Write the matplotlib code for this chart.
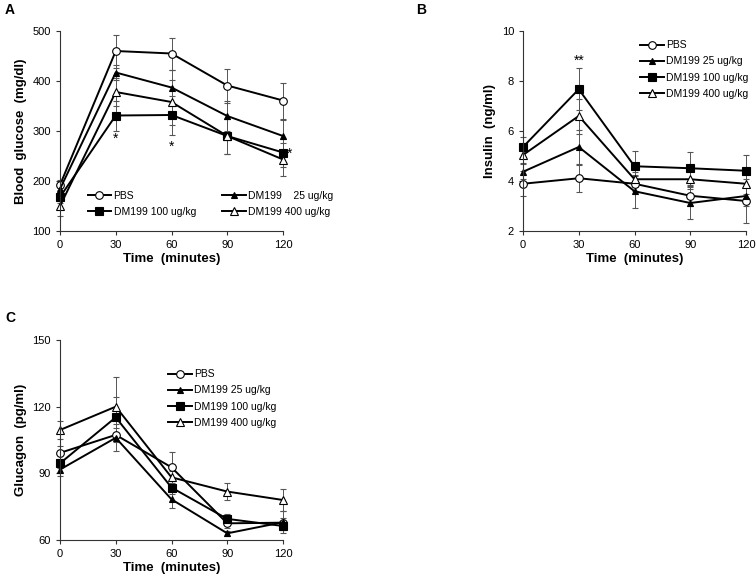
import numpy as np
import matplotlib.pyplot as plt
from matplotlib.lines import Line2D

plt.rcParams['font.family'] = ['Liberation Sans', 'DejaVu Sans']

time = [0, 30, 60, 90, 120]
labels = ['PBS', 'DM199 25 ug/kg', 'DM199 100 ug/kg', 'DM199 400 ug/kg']

# panel A - blood glucose
glu_pbs = [192, 460, 455, 391, 361]
glu_25 = [184, 417, 387, 330, 290]
glu_100 = [168, 331, 332, 290, 257]
glu_400 = [150, 378, 358, 290, 243]
glu_pbs_err = [10, 33, 32, 34, 36]
glu_25_err = [12, 15, 36, 30, 32]
glu_100_err = [12, 30, 39, 35, 28]
glu_400_err = [20, 28, 45, 35, 33]

# panel B - insulin
ins_pbs = [3.89, 4.11, 3.89, 3.41, 3.2]
ins_25 = [4.37, 5.36, 3.59, 3.12, 3.4]
ins_100 = [5.36, 7.67, 4.59, 4.51, 4.41]
ins_400 = [5.04, 6.6, 4.07, 4.07, 3.89]
ins_pbs_err = [0.5, 0.56, 0.3, 0.4, 0.87]
ins_25_err = [0.3, 0.7, 0.67, 0.64, 0.4]
ins_100_err = [0.4, 0.84, 0.6, 0.66, 0.65]
ins_400_err = [0.3, 0.7, 0.3, 0.4, 0.4]

# panel C - glucagon
gcg_pbs = [99.2, 107.3, 92.7, 67.5, 67.8]
gcg_25 = [91.7, 106, 78.3, 63, 68]
gcg_100 = [94.5, 115.2, 83.6, 69.5, 66.3]
gcg_400 = [109.5, 120, 88.2, 81.8, 78]
gcg_pbs_err = [3, 3, 7, 2, 2]
gcg_25_err = [3, 6, 4, 1, 5]
gcg_100_err = [2, 9, 3, 2, 2]
gcg_400_err = [4, 13.5, 3, 4, 5]

styles = [
    dict(marker='o', mfc='white', ms=5.5),
    dict(marker='^', mfc='black', ms=4.5),
    dict(marker='s', mfc='black', ms=5.5),
    dict(marker='^', mfc='white', ms=5.5),
]

W, H = 756, 579
fig = plt.figure(figsize=(W / 100, H / 100), dpi=100)


def make_ax(l, t, r, b):
    return fig.add_axes([l / W, 1 - b / H, (r - l) / W, (b - t) / H])


def draw(ax, series, errs, ylim, yticks, ylabel):
    for y, e, st in zip(series, errs, styles):
        ax.errorbar(time, y, yerr=e, color='black', lw=1.4, mec='black', mew=0.8,
                    ecolor='#555555', elinewidth=0.7, capsize=2.5, capthick=0.7,
                    **st)
    ax.set_xlim(0, 120)
    ax.set_ylim(*ylim)
    ax.set_xticks(time)
    ax.set_yticks(yticks)
    ax.spines['top'].set_visible(False)
    ax.spines['right'].set_visible(False)
    for s in ['left', 'bottom']:
        ax.spines[s].set_linewidth(0.8)
        ax.spines[s].set_color('#333333')
    ax.tick_params(labelsize=8, length=3, width=0.8, color='#333333')
    for art in ax.lines + ax.collections:
        art.set_clip_on(False)
    ax.set_xlabel('Time  (minutes)', fontsize=9.5, fontweight='bold', labelpad=2)
    ax.set_ylabel(ylabel, fontsize=9.5, fontweight='bold', labelpad=4)


def handles():
    return [Line2D([], [], color='black', lw=1.4, mec='black', mew=0.8, **st)
            for st in styles]


leg_kw = dict(frameon=False, fontsize=7.5, handlelength=2.3, handletextpad=0.2,
              labelspacing=0.6, borderpad=0)

axA = make_ax(60, 31, 283, 231)
draw(axA, [glu_pbs, glu_25, glu_100, glu_400],
     [glu_pbs_err, glu_25_err, glu_100_err, glu_400_err],
     (100, 500), [100, 200, 300, 400, 500], 'Blood  glucose  (mg/dl)')
h = handles()
labA = ['PBS', 'DM199 100 ug/kg', 'DM199    25 ug/kg', 'DM199 400 ug/kg']
axA.legend([h[0], h[2], h[1], h[3]], labA, ncol=2,
           loc='lower left', bbox_to_anchor=(0.10, 0.045),
           columnspacing=2.5, **leg_kw)
axA.text(30, 285, '*', ha='center', va='center', fontsize=10)
axA.text(60, 268, '*', ha='center', va='center', fontsize=10)
axA.text(123.5, 254, '*', ha='center', va='center', fontsize=10)

axB = make_ax(523, 31, 746, 231)
draw(axB, [ins_pbs, ins_25, ins_100, ins_400],
     [ins_pbs_err, ins_25_err, ins_100_err, ins_400_err],
     (2, 10), [2, 4, 6, 8, 10], 'Insulin  (ng/ml)')
axB.legend(handles(), labels, loc='upper left', bbox_to_anchor=(0.5, 0.98),
           **leg_kw)
axB.text(30, 8.8, '**', ha='center', va='center', fontsize=10)

axC = make_ax(60, 340, 283, 540)
draw(axC, [gcg_pbs, gcg_25, gcg_100, gcg_400],
     [gcg_pbs_err, gcg_25_err, gcg_100_err, gcg_400_err],
     (60, 150), [60, 90, 120, 150], 'Glucagon  (pg/ml)')
axC.legend(handles(), labels, loc='upper left', bbox_to_anchor=(0.462, 0.88),
           **leg_kw)

for txt, x, y in [('A', 5, 10), ('B', 416, 10), ('C', 5, 318)]:
    fig.text(x / W, 1 - y / H, txt, fontsize=10, fontweight='bold', va='center')

fig.savefig('out.png', dpi=100)
